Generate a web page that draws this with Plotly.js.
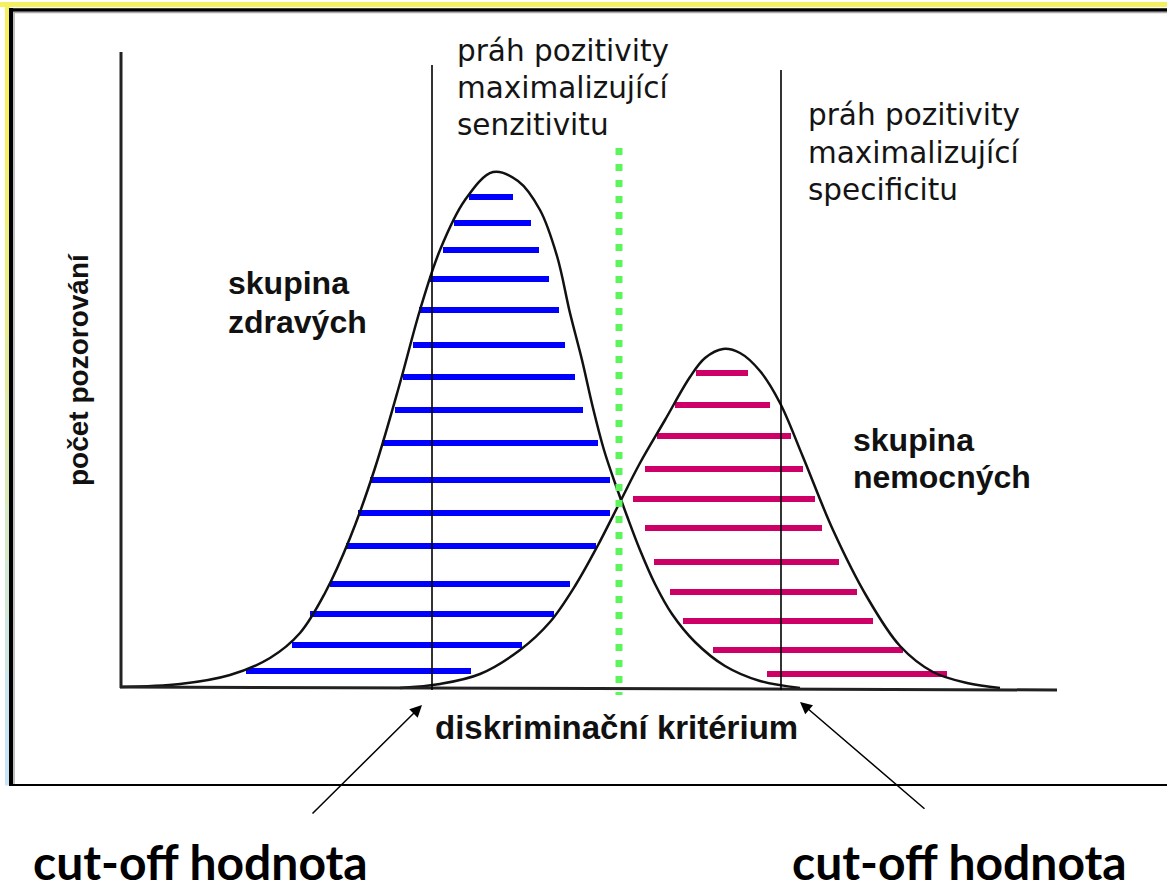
<!DOCTYPE html>
<html><head><meta charset="utf-8">
<script src="https://cdn.plot.ly/plotly-3.0.1.min.js"></script>
<style>html,body{margin:0;padding:0;background:#fff;}#chart{width:1167px;height:893px;}</style>
</head><body><div id="chart"></div>
<script>
const healthyX = [0,60,110,150,180,205,230,255,280,300,320,345,373,398,420,437,450,462,473,484,495,507,520,535,552,575,605,640,680];
const healthyY = [1,4,13,30,55,95,150,220,305,378,438,488,516,507,478,432,375,328,280,238,205,172,138,104,74,46,22,7,0];
const diseasedX = [280,320,360,400,430,455,477,500,520,545,570,585,603,620,640,660,683,713,747,780,813,847,880];
const diseasedY = [0,4,14,38,66,102,141,186,225,268,311,330,339,335,317,285,231,158,91,42,16,5,0];

// Hatching segments (level, from, to)
const healthyHatchY    = [491,465,438,409,378,343,311,278,245,208,175,142,104,74,43,17];
const healthyHatchFrom = [349,334,323,309,299,293,283,275,262,250,238,226,210,190,172,126];
const healthyHatchTo   = [393,411,419,429,439,445,455,463,478,490,490,476,450,434,402,351];
const diseasedHatchY    = [315,283,252,219,189,160,126,96,67,38,14];
const diseasedHatchFrom = [576,555,537,525,513,525,534,550,563,593,647];
const diseasedHatchTo   = [628,650,671,683,695,702,719,737,753,783,827];

// Thresholds
const cutoffs = [312, 661];
const optimalCutoff = 499;

// Texts
const thresholdLabelSens = ['práh pozitivity','maximalizující','senzitivitu'];
const thresholdLabelSpec = ['práh pozitivity','maximalizující','specificitu'];
const healthyLabel = ['skupina','zdravých'];
const diseasedLabel = ['skupina','nemocných'];
const yTitle = 'počet pozorování';
const xTitle = 'diskriminační kritérium';
const cutoffLabel = 'cut-off hodnota';

function segs(ys, x0, x1){
  const X=[],Y=[];
  for(let i=0;i<ys.length;i++){X.push(x0[i],x1[i],null);Y.push(ys[i],ys[i],null);}
  return {X,Y};
}
const hb = segs(healthyHatchY, healthyHatchFrom, healthyHatchTo);
const hm = segs(diseasedHatchY, diseasedHatchFrom, diseasedHatchTo);

const traces = [
  {x:hb.X,y:hb.Y,mode:'lines',line:{color:'#0000ff',width:6},hoverinfo:'skip',connectgaps:false},
  {x:hm.X,y:hm.Y,mode:'lines',line:{color:'#cc0066',width:6},hoverinfo:'skip',connectgaps:false},
  {x:healthyX,y:healthyY,mode:'lines',line:{color:'#111',width:2.5,shape:'spline',smoothing:1},hoverinfo:'skip'},
  {x:diseasedX,y:diseasedY,mode:'lines',line:{color:'#111',width:2.5,shape:'spline',smoothing:1},hoverinfo:'skip'}
];

const REG = {family:'DejaVu Sans',size:29.5,color:'#141414'};
const BOLD = {family:'Liberation Sans, Arial, sans-serif',size:32,color:'#111',weight:700};

const ann = [];
function txt(t,x,y,font,extra){ann.push(Object.assign({text:t,x:x,y:y,xref:'x',yref:'y',showarrow:false,xanchor:'left',yanchor:'middle',font:font},extra||{}));}
const sensY=[637,600,563], specY=[573,535,498];
thresholdLabelSens.forEach((t,i)=>txt(t,335,sensY[i],REG));
thresholdLabelSpec.forEach((t,i)=>txt(t,686,specY[i],REG));
healthyLabel.forEach((t,i)=>txt(t,106,[405,366][i],BOLD));
diseasedLabel.forEach((t,i)=>txt(t,731,[248,211][i],BOLD));
txt(yTitle,-42,318,Object.assign({},BOLD,{size:28}),{textangle:-90,xanchor:'center'});
txt(xTitle,313,-39,Object.assign({},BOLD,{size:33}));
txt(cutoffLabel,-89,-204,{family:'Lato',size:48,color:'#000',weight:700},{yanchor:'bottom'});
txt(cutoffLabel,670,-204,{family:'Lato',size:48,color:'#000',weight:700},{yanchor:'bottom'});
// arrows pointing to the cut-off values
ann.push({x:cutoffs[0]-10,y:-17,ax:191,ay:-127,axref:'x',ayref:'y',xref:'x',yref:'y',text:'',showarrow:true,arrowhead:2,arrowsize:1.6,arrowwidth:1.5,arrowcolor:'#000'});
ann.push({x:cutoffs[1]+19,y:-14,ax:806,ay:-122,axref:'x',ayref:'y',xref:'x',yref:'y',text:'',showarrow:true,arrowhead:2,arrowsize:1.6,arrowwidth:1.5,arrowcolor:'#000'});

const shapes = [
  {type:'rect',x0:-120,x1:1047,y0:686,y1:681,fillcolor:'#f5f060',line:{width:0},layer:'below'}
];
// left frame edge: yellow fading to light blue
const steps = 14, yTop = 686, yBot = -97;
const c0=[245,240,96], c1=[200,228,245];
for(let i=0;i<steps;i++){
  const f = Math.min(1, Math.max(0, (i/(steps-1)-0.15)/0.8));
  const c = c0.map((v,k)=>Math.round(v+(c1[k]-v)*f));
  const ya = yTop-(yTop-yBot)*i/steps, yb = yTop-(yTop-yBot)*(i+1)/steps;
  shapes.push({type:'rect',x0:-115,x1:-110,y0:ya,y1:yb-0.5,fillcolor:'rgb('+c.join(',')+')',line:{width:0},layer:'below'});
}
shapes.push(
  {type:'line',x0:-111,x1:1047,y0:678,y1:678,line:{color:'#000',width:3.5}},
  {type:'line',x0:-106,x1:1047,y0:675.5,y1:675.5,line:{color:'#aaa',width:1.5}},
  {type:'line',x0:-109,x1:-109,y0:680,y1:-98,line:{color:'#000',width:4}},
  {type:'line',x0:-106,x1:-106,y0:676,y1:-96,line:{color:'#aaa',width:1.5}},
  {type:'line',x0:-111,x1:1047,y0:-97,y1:-97,line:{color:'#000',width:2}},
  // axes
  {type:'line',x0:1,x1:1,y0:636,y1:0,line:{color:'#222',width:3}},
  {type:'line',x0:0,x1:937,y0:1,y1:-2,line:{color:'#222',width:3}},
  // cut-off lines
  {type:'line',x0:cutoffs[0],x1:cutoffs[0],y0:623,y1:-2,line:{color:'#000',width:1.6}},
  {type:'line',x0:cutoffs[1],x1:cutoffs[1],y0:618,y1:-2,line:{color:'#000',width:1.6}},
  {type:'line',x0:optimalCutoff,x1:optimalCutoff,y0:540,y1:-7,line:{color:'#5cf55c',width:7,dash:'7px,9px'}}
);

const layout = {
  width:1167,height:893,margin:{l:0,r:0,t:0,b:0,pad:0},
  paper_bgcolor:'#fff',plot_bgcolor:'#fff',showlegend:false,
  xaxis:{range:[-120,1047],visible:false,fixedrange:true},
  yaxis:{range:[-205,688],visible:false,fixedrange:true},
  shapes:shapes,annotations:ann
};
Plotly.newPlot('chart',traces,layout,{staticPlot:true,displayModeBar:false});
</script></body></html>
